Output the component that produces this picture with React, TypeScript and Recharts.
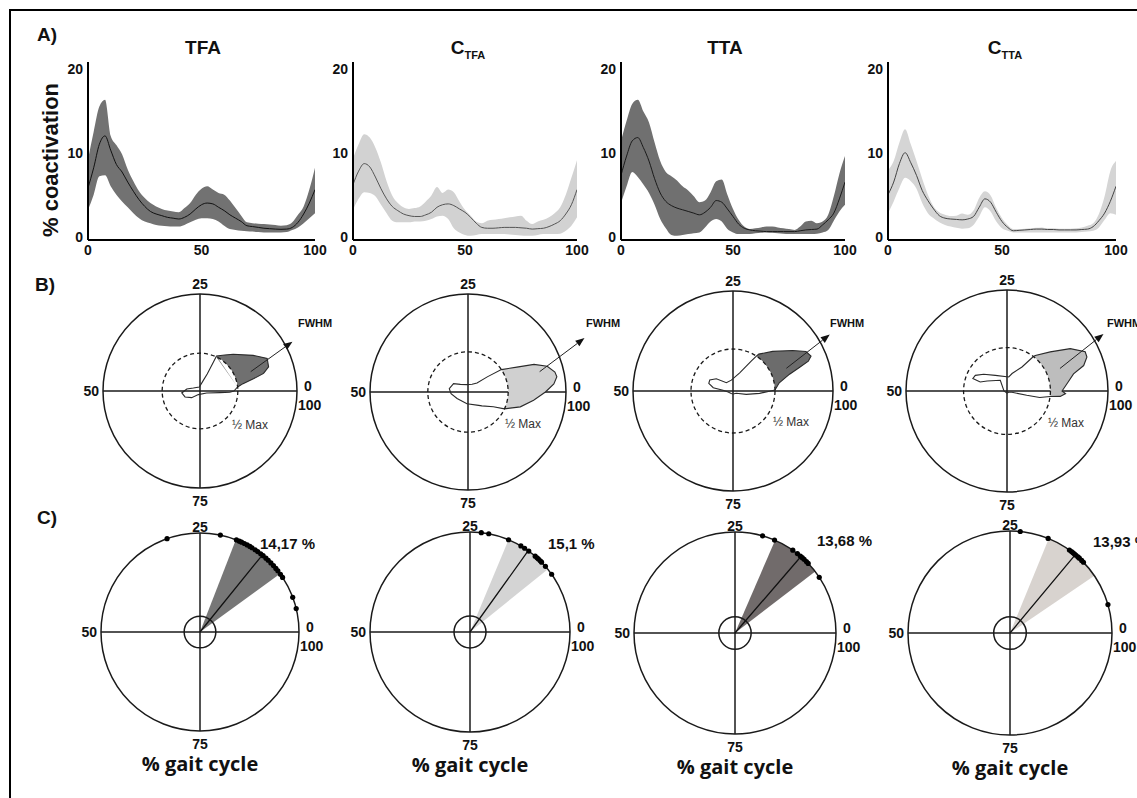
import React from "react";
import {
  ComposedChart,
  Area,
  Line,
  XAxis,
  YAxis,
  RadarChart,
  Radar,
  PolarGrid,
  PolarAngleAxis,
  PolarRadiusAxis,
  PieChart,
  Pie,
  Cell,
} from "recharts";

const FONT = '"Liberation Sans", Arial, Helvetica, sans-serif';
const CAPTION_FONT = '"Open Sans", "Noto Sans", sans-serif';

// ---- row A: % coactivation over the gait cycle (mean and spread) ----
const gait = [
  0, 2.5, 5, 7.5, 10, 12.5, 15, 17.5, 20, 22.5, 25, 27.5, 30, 32.5, 35, 37.5, 40, 42.5, 45, 47.5, 50,
  52.5, 55, 57.5, 60, 62.5, 65, 67.5, 70, 72.5, 75, 77.5, 80, 82.5, 85, 87.5, 90, 92.5, 95, 97.5, 100,
];

const tfaLow = [
  3.2, 5.0, 7.2, 7.3, 6.0, 5.0, 4.2, 3.5, 2.8, 2.2, 1.8, 1.6, 1.4, 1.3, 1.25, 1.2, 1.2, 1.4, 1.7, 2.0, 2.2,
  2.2, 2.1, 1.8, 1.3, 0.9, 0.8, 0.7, 0.65, 0.6, 0.55, 0.5, 0.5, 0.5, 0.5, 0.55, 0.8, 1.1, 1.6, 2.2, 2.8,
];
const tfaMean = [
  5.8, 8.2, 11.0, 12.0, 10.3, 8.6, 7.7, 6.5, 5.4, 4.4, 3.6, 3.0, 2.7, 2.5, 2.3, 2.2, 2.1, 2.3, 2.7, 3.3, 3.8,
  4.0, 3.9, 3.5, 3.1, 2.6, 2.2, 1.8, 1.3, 1.2, 1.1, 1.0, 0.95, 0.9, 0.87, 0.9, 1.1, 1.7, 2.7, 4.0, 5.6,
];
const tfaHigh = [
  9.2, 12.5, 15.5, 16.3, 12.0, 10.9, 9.8, 8.0, 6.6, 5.4, 4.6, 4.0, 3.6, 3.3, 3.1, 3.0, 2.9, 3.4, 4.0, 5.0, 5.7,
  6.0, 5.6, 5.2, 5.0, 4.3, 3.4, 2.5, 1.7, 1.6, 1.55, 1.5, 1.45, 1.4, 1.3, 1.35, 1.7, 2.6, 3.6, 5.6, 8.2,
];

const ctfaLow = [
  3.2, 4.5, 5.3, 5.2, 4.8, 3.8, 2.8, 1.9, 1.7, 1.7, 1.7, 1.8, 1.8, 1.9, 2.1, 2.4, 2.5, 2.1, 1.0, 0.5, 0.2,
  0.1, 0.2, 0.3, 0.3, 0.3, 0.3, 0.3, 0.25, 0.2, 0.15, 0.1, 0.1, 0.2, 0.3, 0.3, 0.3, 0.35, 0.7, 1.3, 2.3,
];
const ctfaMean = [
  6.2, 7.8, 8.7, 8.3, 7.1, 5.7, 4.5, 3.6, 3.1, 2.7, 2.5, 2.4, 2.4, 2.6, 2.9, 3.5, 3.8, 3.9, 3.7, 3.3, 2.9,
  2.3, 1.6, 1.1, 1.0, 1.0, 1.05, 1.1, 1.1, 1.1, 1.05, 1.0, 0.9, 0.95, 1.0, 1.2, 1.5, 1.9, 2.7, 3.8, 5.6,
];
const ctfaHigh = [
  9.3, 11.0, 12.2, 11.8, 10.6, 8.8, 6.6, 4.9, 4.0, 3.5, 3.3, 3.4, 3.6, 4.2, 4.9, 5.9, 5.2, 5.6, 5.3, 4.2, 3.2,
  2.5, 1.8, 1.6, 1.9, 2.0, 2.1, 2.2, 2.3, 2.4, 2.5, 1.9, 1.5, 1.8, 2.0, 2.3, 2.8, 3.5, 5.0, 7.0, 9.1,
];

const ttaLow = [
  4.0, 6.0, 7.7, 7.1, 6.2, 5.2, 3.8, 2.1, 1.0, 0.2, 0.1, 0.2, 0.3, 0.4, 0.5, 1.1, 1.8, 2.1, 1.8, 0.9, 0.5,
  0.3, 0.3, 0.3, 0.4, 0.45, 0.5, 0.45, 0.4, 0.35, 0.3, 0.3, 0.3, 0.3, 0.3, 0.35, 0.5, 0.8, 1.9, 3.0, 3.8,
];
const ttaMean = [
  7.3, 9.6, 11.4, 11.8, 10.6, 9.0, 6.9, 5.2, 4.2, 3.7, 3.4, 3.2, 3.0, 2.8, 2.6, 2.9, 3.5, 4.3, 4.1, 3.3, 2.4,
  1.5, 1.0, 0.8, 0.7, 0.65, 0.6, 0.6, 0.6, 0.6, 0.6, 0.6, 0.7, 0.8, 0.85, 0.9, 1.4, 2.0, 2.8, 4.5, 6.5,
];
const ttaHigh = [
  11.4, 13.8, 15.8, 16.3, 14.9, 13.6, 11.2, 9.0, 7.7, 7.2, 6.7, 6.0, 5.5, 4.8, 4.1, 4.3, 5.3, 6.6, 6.8, 5.0, 3.3,
  2.0, 1.2, 0.9, 1.0, 1.1, 1.2, 1.2, 1.1, 1.0, 0.9, 0.8, 1.2, 1.8, 1.9, 1.6, 1.8, 2.6, 4.8, 7.5, 9.6,
];

const cttaLow = [
  2.8, 4.2, 5.8, 7.0, 6.6, 5.7, 4.0, 2.8, 2.2, 1.7, 1.4, 1.2, 1.05, 0.95, 1.0, 1.4, 2.4, 3.5, 3.0, 1.8, 1.0,
  0.7, 0.5, 0.5, 0.5, 0.5, 0.5, 0.5, 0.5, 0.5, 0.5, 0.5, 0.5, 0.5, 0.55, 0.6, 0.7, 1.1, 2.0, 2.8, 2.6,
];
const cttaMean = [
  5.0, 6.5, 8.7, 10.0, 8.8, 7.3, 5.5, 4.3, 3.3, 2.5, 2.2, 2.1, 2.05, 2.0, 2.1, 2.4, 3.5, 4.5, 4.1, 2.9, 1.8,
  1.1, 0.7, 0.75, 0.8, 0.85, 0.9, 0.9, 0.85, 0.85, 0.8, 0.8, 0.8, 0.8, 0.85, 0.9, 1.2, 1.9, 2.8, 4.2, 6.0,
];
const cttaHigh = [
  7.9, 9.0, 11.2, 12.8, 11.0, 9.0, 6.9, 5.0, 3.6, 2.9, 2.6, 2.45, 2.5, 2.75, 2.6, 3.1, 4.6, 5.4, 4.9, 3.4, 2.2,
  1.4, 0.9, 0.9, 0.95, 1.0, 1.05, 1.1, 1.0, 1.0, 0.95, 0.95, 0.95, 1.0, 1.1, 1.3, 1.6, 2.7, 4.8, 7.8, 9.0,
];

// ---- row B: polar outline, [% gait cycle, radius in % of outer circle] ----
const tfaShape: [number, number][] = [
  [0, 35], [1.7, 39], [2.7, 45], [3.6, 57], [4.3, 68], [5.4, 75], [7.2, 77], [9.4, 66], [13.3, 51],
  [15.4, 45], [18, 40], [18.1, 33], [18.6, 19], [20.2, 11.5], [27.6, 4.2], [43.3, 7.5], [47.6, 13.8],
  [51.7, 18.9], [56, 16.6], [60.7, 11], [68.2, 4.1], [95.4, 7.1], [98.7, 20.6], [99.3, 30.8],
];
const ctfaShape: [number, number][] = [
  [0, 79], [1.5, 88], [2.7, 92], [3.6, 91], [5, 85], [6.3, 73], [7.5, 56], [9.4, 41], [10.6, 25],
  [12.5, 13], [17.3, 9], [27, 7.6], [37.5, 11], [41.7, 17], [47.2, 19.4], [51.6, 17.4], [58.6, 13],
  [73.6, 12], [85.7, 17.4], [87.5, 20], [91.6, 30], [93.1, 41], [95.6, 55.5], [98, 67.5],
];
const ttaShape: [number, number][] = [
  [0.4, 42], [2.8, 47], [4.6, 59], [5.4, 70], [6, 81], [6.7, 85.5], [7.9, 83], [9.5, 72], [12.5, 56],
  [15.3, 45], [15.6, 42], [16.3, 35], [19.4, 19.4], [27.4, 11], [35.7, 10.6], [39.9, 20.7], [43, 25.7],
  [45.1, 25.4], [47.4, 20], [48.9, 10], [53, 5], [65, 3], [75, 3], [90.3, 4], [96.1, 13.7], [98.6, 26.7],
  [99.9, 36.5],
];
const cttaShape: [number, number][] = [
  [0, 54.5], [1.9, 59.8], [4, 68], [5.1, 80], [6.4, 86], [7.4, 86.6], [9.4, 75.4], [11.7, 57.7], [14.3, 45],
  [14.6, 43], [16.1, 28], [20.5, 18], [23, 14], [35.2, 19.3], [40.1, 28.4], [42.7, 35], [44.4, 36],
  [44.8, 28], [42.6, 22], [33.9, 12.5], [50, 3], [75, 2], [90, 2], [96, 5], [96.6, 20], [96.9, 33],
  [98, 43], [98.4, 53], [99.3, 58],
];
const halfMax = [39, 41, 42, 43];
// FWHM arrows: [start, end] as [% gait cycle, radius]
const fwhmArrows: [number, number][][] = [
  [[5.8, 56], [7.8, 108]],
  [[4.4, 76], [6.9, 131]],
  [[6.4, 58], [8.4, 112]],
  [[6.4, 57], [8.5, 111]],
];

// ---- row C: timing of the coactivation peak ----
const tfaPeaks = [30.4, 21.7, 19, 18.5, 18.1, 17.6, 17.1, 16.6, 16.2, 15.6, 15.1, 14.5, 14, 13.4, 12.9, 12.3, 11.7, 11.1, 10.6, 9.9, 9.3, 5.7, 3.8];
const ctfaPeaks = [23.2, 22, 18.7, 16.5, 15.8, 15, 13.7, 13.3, 13, 12.6, 12.3, 11.4, 9.8];
const ttaPeaks = [20.6, 18.6, 15.3, 14.4, 13.8, 13.4, 13, 12.5, 12.1, 9.3];
const cttaPeaks = [23.4, 18.9, 15.1, 14.7, 14.4, 14.1, 13.8, 13.4, 13.1, 12.6, 12.2, 4.5];
const peakMean = [14.17, 15.1, 13.68, 13.93];
const peakLabels = ["14,17 %", "15,1 %", "13,68 %", "13,93 %"];
const peakSpread: [number, number][] = [
  [10, 19.1],
  [10.8, 18.7],
  [10.4, 18.5],
  [9.5, 18.8],
];
const innerCircle = 16;

// ---- layout ----
const aPanels = [
  { title: "TFA", sub: "", low: tfaLow, mean: tfaMean, high: tfaHigh, band: "#727272", line: "#111", axisX: 88, plotW: 227, titleX: 203 },
  { title: "C", sub: "TFA", low: ctfaLow, mean: ctfaMean, high: ctfaHigh, band: "#d2d2d2", line: "#555", axisX: 353, plotW: 224, titleX: 468 },
  { title: "TTA", sub: "", low: ttaLow, mean: ttaMean, high: ttaHigh, band: "#707070", line: "#1a1a1a", axisX: 621, plotW: 224, titleX: 725 },
  { title: "C", sub: "TTA", low: cttaLow, mean: cttaMean, high: cttaHigh, band: "#d5d5d5", line: "#444", axisX: 888, plotW: 228, titleX: 1005 },
];

const bPanels = [
  { cx: 200, cy: 391, R: 97, shape: tfaShape, fill: "#707070", fwhmX: 298, maxX: 232, maxY: 425 },
  { cx: 468, cy: 392, R: 98, shape: ctfaShape, fill: "#d0d0d0", fwhmX: 586, maxX: 505, maxY: 424 },
  { cx: 733, cy: 391, R: 100, shape: ttaShape, fill: "#6c6c6c", fwhmX: 830, maxX: 773, maxY: 422 },
  { cx: 1007, cy: 391, R: 101, shape: cttaShape, fill: "#bdbdbd", fwhmX: 1107, maxX: 1048, maxY: 423 },
];

const cPanels = [
  { cx: 200, cy: 632, R: 99, peaks: tfaPeaks, fill: "#777777", labelX: 260, labelY: 543 },
  { cx: 470, cy: 632, R: 100, peaks: ctfaPeaks, fill: "#d4d4d4", labelX: 548, labelY: 543 },
  { cx: 735, cy: 633, R: 101, peaks: ttaPeaks, fill: "#716b6b", labelX: 817, labelY: 540 },
  { cx: 1010, cy: 633, R: 102, peaks: cttaPeaks, fill: "#d8d3cf", labelX: 1093, labelY: 541 },
];

const SZ = 320;
const HALF = SZ / 2;
const ZERO = { top: 0, right: 0, bottom: 0, left: 0 };
const quarters = [{ q: "0" }, { q: "25" }, { q: "50" }, { q: "75" }];

function fwhmRuns(shape: [number, number][], half: number) {
  const runs: { p: number; v: number[] }[][] = [];
  let cur: { p: number; v: number[] }[] = [];
  shape.forEach(([p, r]) => {
    if (r >= half) cur.push({ p, v: [half, r] });
    else if (cur.length) {
      runs.push(cur);
      cur = [];
    }
  });
  if (cur.length) {
    if (runs.length && shape[0][1] >= half) runs[0] = [...cur, ...runs[0]];
    else runs.push(cur);
  }
  return runs;
}

function Txt({
  x, y, children, size = 14, weight = 700, anchor = "middle", color = "#111", family = FONT,
}: {
  x: number; y: number; children: React.ReactNode; size?: number; weight?: number;
  anchor?: "start" | "middle" | "end"; color?: string; family?: string;
}) {
  const tx = anchor === "middle" ? "-50%" : anchor === "end" ? "-100%" : "0";
  return (
    <div
      style={{
        position: "absolute", left: x, top: y, transform: `translate(${tx}, -50%)`,
        fontSize: size, fontWeight: weight, fontFamily: family, color, whiteSpace: "nowrap", lineHeight: 1,
      }}
    >
      {children}
    </div>
  );
}

function Layer({ cx, cy, children }: { cx: number; cy: number; children: React.ReactNode }) {
  return (
    <div style={{ position: "absolute", left: cx - HALF, top: cy - HALF, width: SZ, height: SZ }}>{children}</div>
  );
}

// circles at the given radii (in % of the outer circle) and, optionally, the 0/25/50/75 axes
function GridLayer({ R, radii, lines, dashed }: { R: number; radii: number[]; lines: boolean; dashed?: boolean }) {
  return (
    <RadarChart width={SZ} height={SZ} cx={HALF} cy={HALF} outerRadius={R} startAngle={0} endAngle={360} data={quarters} margin={ZERO}>
      <PolarAngleAxis dataKey="q" tick={false} axisLine={false} />
      <PolarRadiusAxis type="number" domain={[0, 100]} tick={false} axisLine={false} />
      <PolarGrid
        gridType="circle"
        radialLines={lines}
        polarAngles={lines ? [0, 90, 180, 270] : []}
        polarRadius={radii.map((r) => (r * R) / 100)}
        stroke="#1a1a1a"
        strokeWidth={dashed ? 1.3 : 1.5}
        strokeDasharray={dashed ? "4 3" : undefined}
      />
    </RadarChart>
  );
}

function PolarLayer({ R, max, data, children }: { R: number; max: number; data: any[]; children: React.ReactNode }) {
  return (
    <RadarChart
      width={SZ} height={SZ} cx={HALF} cy={HALF} outerRadius={(R * max) / 100}
      startAngle={0} endAngle={360} data={data} margin={ZERO}
    >
      <PolarAngleAxis dataKey="p" type="number" domain={[0, 100]} tick={false} axisLine={false} />
      <PolarRadiusAxis type="number" domain={[0, max]} tick={false} axisLine={false} />
      {children}
    </RadarChart>
  );
}

function ArrowShape(props: any) {
  const pts = props.points;
  if (!pts || pts.length < 2) return <g />;
  const a = pts[0];
  const b = pts[1];
  const dx = b.x - a.x;
  const dy = b.y - a.y;
  const len = Math.hypot(dx, dy) || 1;
  const ux = dx / len;
  const uy = dy / len;
  const bx = b.x - ux * 9;
  const by = b.y - uy * 9;
  return (
    <g>
      <line x1={a.x} y1={a.y} x2={bx} y2={by} stroke="#222" strokeWidth={1} />
      <polygon points={`${b.x},${b.y} ${bx - uy * 3.5},${by + ux * 3.5} ${bx + uy * 3.5},${by - ux * 3.5}`} fill="#111" />
    </g>
  );
}

function CoactPanel({ p }: { p: (typeof aPanels)[number] }) {
  const data = gait.map((g, i) => ({ g, band: [p.low[i], p.high[i]], mean: p.mean[i] }));
  const tick = { fontSize: 14, fontWeight: 700, fill: "#111", fontFamily: FONT };
  return (
    <div style={{ position: "absolute", left: p.axisX - 30, top: 52 }}>
      <ComposedChart width={30 + p.plotW + 16} height={10 + 178 + 24} data={data} margin={{ top: 10, right: 16, bottom: 0, left: 0 }}>
        <XAxis
          dataKey="g" type="number" domain={[0, 100]} ticks={[0, 50, 100]} interval={0} height={24}
          axisLine={{ stroke: "#000", strokeWidth: 2 }} tickLine={false} tickSize={2} tickMargin={3} tick={tick} allowDataOverflow
        />
        <YAxis
          type="number" domain={[-0.4, 20.8]} ticks={[0, 10, 20]} interval={0} width={30}
          axisLine={{ stroke: "#000", strokeWidth: 2 }} tickLine={false} tickSize={2} tickMargin={3} tick={tick} allowDataOverflow
        />
        <Area type="monotone" dataKey="band" fill={p.band} fillOpacity={1} stroke="none" isAnimationActive={false} />
        <Line type="monotone" dataKey="mean" stroke={p.line} strokeWidth={1} dot={false} isAnimationActive={false} />
      </ComposedChart>
    </div>
  );
}

function PolarLabels({ cx, cy, R, top, bottom }: { cx: number; cy: number; R: number; top: number; bottom: number }) {
  return (
    <>
      <Txt x={cx} y={cy - R - top}>25</Txt>
      <Txt x={cx - R - 4} y={cy} anchor="end">50</Txt>
      <Txt x={cx + R + 7} y={cy - 5} anchor="start">0</Txt>
      <Txt x={cx + R + 1} y={cy + 14} anchor="start">100</Txt>
      <Txt x={cx} y={cy + R + bottom}>75</Txt>
    </>
  );
}

export default function App() {
  return (
    <div style={{ position: "absolute", left: 0, top: 0, width: 1137, height: 798, overflow: "hidden", background: "#fff" }}>
      <div style={{ position: "absolute", left: 9, top: 9, width: 1200, height: 900, borderTop: "2.5px solid #000", borderLeft: "2.5px solid #000" }} />

      {/* row A */}
      <Txt x={37} y={34} size={19} anchor="start">A)</Txt>
      <div
        style={{
          position: "absolute", left: 51, top: 160, transform: "translate(-50%, -50%) rotate(-90deg)",
          fontSize: 22, fontWeight: 700, fontFamily: FONT, whiteSpace: "nowrap", color: "#111",
        }}
      >
        % coactivation
      </div>
      {aPanels.map((p, i) => (
        <React.Fragment key={`a${i}`}>
          <Txt x={p.titleX} y={47} size={19}>
            {p.title}
            {p.sub ? <span style={{ fontSize: 11, position: "relative", top: 5 }}>{p.sub}</span> : null}
          </Txt>
          <CoactPanel p={p} />
        </React.Fragment>
      ))}

      {/* row B */}
      <Txt x={35} y={284} size={19} anchor="start">B)</Txt>
      {bPanels.map((b, i) => {
        const outline = b.shape.map(([p, r]) => ({ p, r }));
        const runs = fwhmRuns(b.shape, halfMax[i]);
        const arrow = fwhmArrows[i].map(([p, r]) => ({ p, r }));
        return (
          <React.Fragment key={`b${i}`}>
            <Layer cx={b.cx} cy={b.cy}>
              <GridLayer R={b.R} radii={[100]} lines />
            </Layer>
            {runs.map((run, k) => (
              <Layer key={k} cx={b.cx} cy={b.cy}>
                <PolarLayer R={b.R} max={140} data={run}>
                  <Radar dataKey="v" stroke="none" fill={b.fill} fillOpacity={1} isAnimationActive={false} />
                </PolarLayer>
              </Layer>
            ))}
            <Layer cx={b.cx} cy={b.cy}>
              <PolarLayer R={b.R} max={140} data={outline}>
                <Radar dataKey="r" stroke="#2a2a2a" strokeWidth={1.1} fill="none" isAnimationActive={false} />
              </PolarLayer>
            </Layer>
            <Layer cx={b.cx} cy={b.cy}>
              <GridLayer R={b.R} radii={[halfMax[i]]} lines={false} dashed />
            </Layer>
            <Layer cx={b.cx} cy={b.cy}>
              <PolarLayer R={b.R} max={140} data={arrow}>
                <Radar dataKey="r" shape={ArrowShape} isAnimationActive={false} />
              </PolarLayer>
            </Layer>
            <PolarLabels cx={b.cx} cy={b.cy} R={b.R} top={10} bottom={13} />
            <Txt x={b.fwhmX} y={323} size={11} anchor="start">FWHM</Txt>
            <Txt x={b.maxX} y={b.maxY} size={12} weight={400} anchor="start" color="#333">½ Max</Txt>
          </React.Fragment>
        );
      })}

      {/* row C */}
      <Txt x={37} y={517} size={19} anchor="start">C)</Txt>
      {cPanels.map((c, i) => {
        const [lo, hi] = peakSpread[i];
        const wedge = [{ v: lo }, { v: hi - lo }, { v: 100 - hi }];
        const meanLine = [{ p: peakMean[i], r: 0 }, { p: peakMean[i], r: 100 }];
        const dots = c.peaks.map((p) => ({ p, r: 100 }));
        return (
          <React.Fragment key={`c${i}`}>
            <Layer cx={c.cx} cy={c.cy}>
              <PieChart width={SZ} height={SZ} margin={ZERO}>
                <Pie
                  data={wedge} dataKey="v" cx={HALF} cy={HALF} innerRadius={0} outerRadius={c.R}
                  startAngle={0} endAngle={360} stroke="none" isAnimationActive={false}
                >
                  {wedge.map((_, k) => (
                    <Cell key={k} fill={k === 1 ? c.fill : "transparent"} />
                  ))}
                </Pie>
              </PieChart>
            </Layer>
            <Layer cx={c.cx} cy={c.cy}>
              <GridLayer R={c.R} radii={[innerCircle, 100]} lines />
            </Layer>
            <Layer cx={c.cx} cy={c.cy}>
              <PolarLayer R={c.R} max={100} data={meanLine}>
                <Radar dataKey="r" stroke="#111" strokeWidth={1.3} fill="none" isAnimationActive={false} />
              </PolarLayer>
            </Layer>
            <Layer cx={c.cx} cy={c.cy}>
              <PolarLayer R={c.R} max={100} data={dots}>
                <Radar
                  dataKey="r" stroke="none" fill="none" isAnimationActive={false}
                  dot={{ r: 2.6, fill: "#000", stroke: "none" }}
                />
              </PolarLayer>
            </Layer>
            <PolarLabels cx={c.cx} cy={c.cy} R={c.R} top={6} bottom={13} />
            <Txt x={c.labelX} y={c.labelY} size={15} anchor="start">{peakLabels[i]}</Txt>
            <Txt x={c.cx} y={c.cy + c.R + 33} size={20} family={CAPTION_FONT}>% gait cycle</Txt>
          </React.Fragment>
        );
      })}
    </div>
  );
}
